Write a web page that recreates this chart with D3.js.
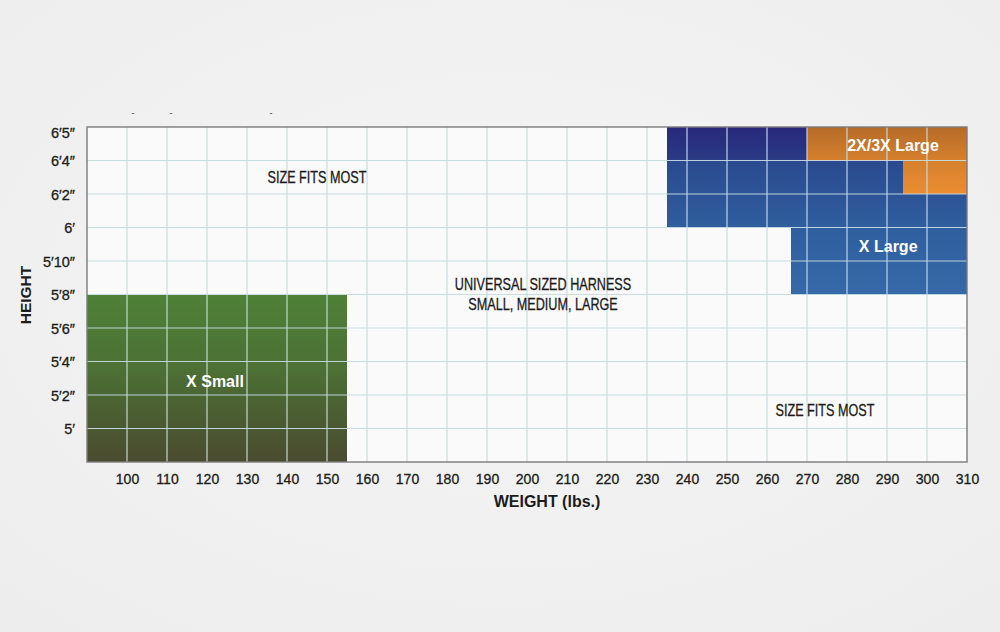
<!DOCTYPE html>
<html><head><meta charset="utf-8">
<script src="https://cdn.jsdelivr.net/npm/d3@7"></script>
<style>html,body{margin:0;padding:0;background:#efefef;overflow:hidden}</style>
</head><body><svg id="c" width="1000" height="632"></svg>
<script>
// ---- data ----
const weightTicks = [100,110,120,130,140,150,160,170,180,190,200,210,220,230,240,250,260,270,280,290,300,310];
const weightDomain = [90, 310];
const heightLevels = ["4′10″","5′","5′2″","5′4″","5′6″","5′8″","5′10″","6′","6′2″","6′4″","6′5″"];
const heightTickLabels = ["5′","5′2″","5′4″","5′6″","5′8″","5′10″","6′","6′2″","6′4″","6′5″"];
// zones: [weightFrom, weightTo, heightFrom, heightTo]
const xSmallZone = [[90,155,"4′10″","5′8″"]];
const blueZone = [[235,270,"6′4″","6′5″"],[235,294,"6′2″","6′4″"],[235,310,"6′","6′2″"],[266,310,"5′8″","6′"]];
const orangeZone = [[270,310,"6′4″","6′5″"],[294,310,"6′2″","6′4″"]];
// label anchors: weight, and the level whose row (upward) the label sits in
const zoneLabels = [
  {text:"X Small", w:122, row:"5′2″", off:0.4},
  {text:"X Large", w:290.3, row:"5′10″", off:0.45},
  {text:"2X/3X Large", w:291.5, row:"6′4″", off:0.45}
];
const noteLabels = [
  {lines:["SIZE FITS MOST"], w:147.5, row:"6′2″", off:0.5},
  {lines:["UNIVERSAL SIZED HARNESS","SMALL, MEDIUM, LARGE"], w:204, row:"5′8″", off:0},
  {lines:["SIZE FITS MOST"], w:274.5, row:"5′", off:0.55}
];

// ---- layout ----
const svg = d3.select("#c");
const x = d3.scaleLinear().domain(weightDomain).range([87, 967]);
const y = d3.scalePoint().domain(heightLevels).range([462, 127]);
const step = y.step();
const yRow = d => y(d.row) - step * d.off;

const defs = svg.append("defs");
function grad(id, y1, y2, stops){
  const g = defs.append("linearGradient").attr("id", id).attr("gradientUnits","userSpaceOnUse")
    .attr("x1",0).attr("x2",0).attr("y1",y1).attr("y2",y2);
  stops.forEach(s => g.append("stop").attr("offset", s[0]).attr("stop-color", s[1]));
}
grad("gGreen", y("5′8″"), y("4′10″"), [[0,"#4f8138"],[0.45,"#4c7035"],[1,"#4a4b2f"]]);
grad("gBlue", y("6′5″"), y("5′8″"), [[0,"#28287a"],[0.19,"#2b3a85"],[0.21,"#2b4a8f"],[0.6,"#2f5e9e"],[1,"#3669a8"]]);
grad("gOrange", y("6′5″"), y("6′2″"), [[0,"#b46b28"],[0.45,"#d27e2d"],[1,"#ec8e31"]]);
const paper = defs.append("radialGradient").attr("id","paper").attr("cx","50%").attr("cy","45%").attr("r","75%");
paper.append("stop").attr("offset",0).attr("stop-color","#f5f5f5");
paper.append("stop").attr("offset",1).attr("stop-color","#ededed");

svg.append("rect").attr("width",1000).attr("height",632).attr("fill","url(#paper)");

// plot background
svg.append("rect").attr("x", x(90)).attr("y", y("6′5″")).attr("width", x(310)-x(90)).attr("height", y("4′10″")-y("6′5″")).attr("fill","#fafafa");

function drawZone(data, fill){
  svg.append("g").selectAll("rect").data(data).join("rect")
    .attr("x", d => x(d[0])).attr("width", d => x(d[1]) - x(d[0]))
    .attr("y", d => y(d[3])).attr("height", d => y(d[2]) - y(d[3]))
    .attr("fill", fill).attr("shape-rendering","crispEdges");
}
drawZone(xSmallZone, "url(#gGreen)");
drawZone(blueZone, "url(#gBlue)");
drawZone(orangeZone, "url(#gOrange)");

// grid
const grid = svg.append("g").attr("stroke","#c6dce1").attr("stroke-width",1.2).attr("opacity",0.95);
grid.selectAll("line.v").data(weightTicks.filter(w => w < 310)).join("line")
  .attr("x1", d => x(d)).attr("x2", d => x(d)).attr("y1", y("6′5″")).attr("y2", y("4′10″"));
grid.selectAll("line.h").data(heightLevels.slice(1, -1)).join("line")
  .attr("y1", d => y(d)).attr("y2", d => y(d)).attr("x1", x(90)).attr("x2", x(310));

// frame
svg.append("rect").attr("x", x(90)).attr("y", y("6′5″")).attr("width", x(310)-x(90)).attr("height", y("4′10″")-y("6′5″"))
  .attr("fill","none").attr("stroke","#7b7b7b").attr("stroke-width",1.4);

const sans = "'Liberation Sans',Arial,Helvetica,sans-serif";
const ink = "#1c1c1c";

// axes
const xAxis = svg.append("g").attr("transform", `translate(0,${y("4′10″")})`)
  .call(d3.axisBottom(x).tickValues(weightTicks).tickSize(0).tickPadding(12).tickFormat(d3.format("d")));
xAxis.select(".domain").remove();
xAxis.selectAll("text").attr("font-family", sans).attr("font-size", 14).attr("fill", ink)
  .attr("stroke", ink).attr("stroke-width", 0.3);

const yAxis = svg.append("g").attr("transform", `translate(${x(90)},0)`)
  .call(d3.axisLeft(y).tickValues(heightTickLabels).tickSize(0).tickPadding(12));
yAxis.select(".domain").remove();
yAxis.selectAll("text").attr("font-family", sans).attr("font-size", 14.5).attr("fill", ink)
  .attr("stroke", ink).attr("stroke-width", 0.3)
  .attr("dy", d => d === "6′5″" ? "0.75em" : "0.36em");

// axis titles
svg.append("text").attr("x", 547).attr("y", 507).attr("text-anchor","middle")
  .attr("font-family", sans).attr("font-weight","bold").attr("font-size",16).attr("fill", ink).text("WEIGHT (lbs.)");
svg.append("text").attr("transform","translate(31,295) rotate(-90)").attr("text-anchor","middle")
  .attr("font-family", sans).attr("font-weight","bold").attr("font-size",15.5).attr("fill", ink).text("HEIGHT");

// zone labels
svg.append("g").selectAll("text").data(zoneLabels).join("text")
  .attr("x", d => x(d.w)).attr("y", yRow).attr("dy","0.36em").attr("text-anchor","middle")
  .attr("font-family", sans).attr("font-weight","bold").attr("font-size",16).attr("fill","#ffffff").text(d => d.text);

// notes (condensed)
const notes = svg.append("g").selectAll("text").data(noteLabels).join("text")
  .attr("text-anchor","middle").attr("font-family", sans).attr("font-size",16).attr("fill", ink)
  .attr("stroke", ink).attr("stroke-width", 0.3)
  .attr("transform", d => `translate(${x(d.w)},${yRow(d) - (d.lines.length-1)*10}) scale(0.79,1)`);
notes.selectAll("tspan").data(d => d.lines).join("tspan")
  .attr("x",0).attr("dy",(d,i) => i === 0 ? "0.36em" : 20).text(d => d);

// stray marks at top
svg.append("g").selectAll("text").data([133,171,271]).join("text")
  .attr("x", d => d).attr("y", 116).attr("text-anchor","middle").attr("font-family", sans)
  .attr("font-size",9).attr("fill","#333").text("-");
</script>
</body></html>
